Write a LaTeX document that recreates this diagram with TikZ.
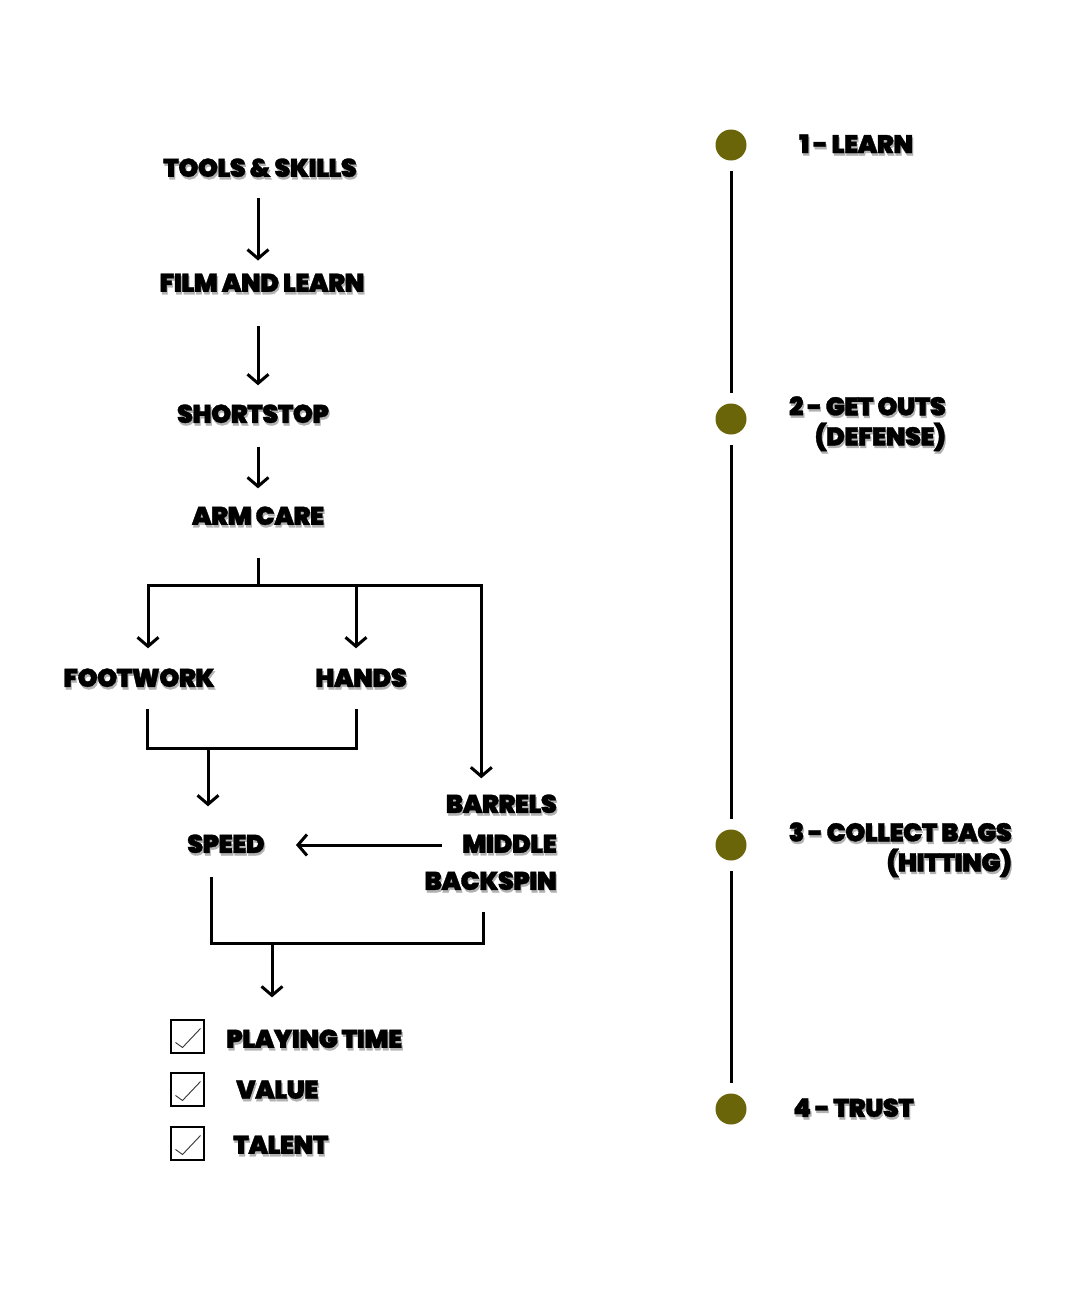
\documentclass[tikz,border=0pt]{standalone}
\usepackage{fontspec}
\setmainfont{Poppins}[BoldFont={Poppins Black}, BoldFeatures={FakeBold=1.3, LetterSpace=-2.2}]
\usetikzlibrary{arrows.meta}
\definecolor{olivedot}{RGB}{107,101,10}
\newcommand\shadowed[1]{\makebox[0pt][l]{\hspace{1.2pt}\raisebox{-2.5pt}{\textcolor{black!30}{#1}}}#1}

\begin{document}
\begin{tikzpicture}[x=1pt,y=-1pt,
  lbl/.style={inner sep=0pt, font=\fontsize{25.5}{30}\selectfont\bfseries},
  link/.style={line width=3pt},
  arrow/.style={link, -{Straight Barb[length=9pt,width=21pt]}},
  tickbox/.style={draw, line width=1.3pt, minimum size=33pt, inner sep=0pt},
  tickmark/.style={line width=0.9pt, black!80},
  dot/.style={circle, fill=olivedot, minimum size=31pt, inner sep=0pt}]
\useasboundingbox[fill=white] (0,0) rectangle (1080,1307);
%%Left chain
\node[lbl] (tools) at (260,169) {\shadowed{TOOLS \& SKILLS}};
\node[lbl] (film) at (262,284) {\shadowed{FILM AND LEARN}};
\node[lbl] (shortstop) at (253,415) {\shadowed{SHORTSTOP}};
\node[lbl] (arm) at (258,517) {\shadowed{ARM CARE}};
\node[lbl] (footwork) at (139,679) {\shadowed{FOOTWORK}};
\node[lbl] (hands) at (361,679) {\shadowed{HANDS}};
\node[lbl, anchor=east] (barrels) at (557,805) {\shadowed{BARRELS}};
\node[lbl, anchor=east] (middle) at (557,845) {\shadowed{MIDDLE}};
\node[lbl, anchor=east] (backspin) at (557,882) {\shadowed{BACKSPIN}};
\node[lbl] (speed) at (226,845) {\shadowed{SPEED}};
\coordinate (split) at (258,585);
\coordinate (merge) at (208,748);
\coordinate (gather) at (272,943);
\draw[arrow, shorten <=18pt, shorten >=13pt] ([xshift=-2pt]tools.south) -- ([xshift=-2pt]tools.south |- film.north); %%Tools
\draw[arrow, shorten <=32pt, shorten >=19pt] ([xshift=-4pt]film.south) -- ([xshift=-4pt]film.south |- shortstop.north); %%Film
\draw[arrow, shorten <=21pt, shorten >=18pt] (arm.north |- shortstop.south) -- (arm.north); %%Shortstop
\draw[link, shorten <=30pt] (arm.south) -- (split); %%Arm care
\draw[arrow, shorten >=20pt] (split) -| ([xshift=9pt]footwork.north);
\draw[arrow, shorten >=20pt] (split) -| ([xshift=-5pt]hands.north);
\draw[arrow, shorten >=16pt] (split) -| ([xshift=-20pt]barrels.north);
\draw[link] ([xshift=8pt,yshift=-19pt]footwork.south) |- (merge) -| ([xshift=-5pt,yshift=-19pt]hands.south); %%Bracket
\draw[arrow, shorten >=28pt] (merge) -- (merge |- speed.north);
\draw[arrow, shorten <=20pt, shorten >=31pt] (middle.west) -- (speed.east);
\draw[link] ([xshift=-15pt,yshift=-21pt]speed.south) |- (gather) -| ([xshift=-7pt,yshift=-19pt]backspin.south); %%Bracket
%%Checklist
\node[lbl, anchor=west] (playing) at (226,1040) {\shadowed{PLAYING TIME}};
\node[lbl, anchor=west] (value) at (236,1091) {\shadowed{VALUE}};
\node[lbl, anchor=west] (talent) at (233,1146) {\shadowed{TALENT}};
\draw[arrow, shorten >=32pt] (gather) -- (gather |- playing.north);
\node[tickbox] (box1) at (187.5,1036.5) {};
\node[tickbox] (box2) at (187.5,1089.5) {};
\node[tickbox] (box3) at (187.5,1143.5) {};
\foreach \b in {box1,box2,box3}
  \draw[tickmark] ([shift={(-12,6)}]\b.center) -- ++(7,5) -- ++(18,-19);
%%Timeline
\node[dot] (d1) at (731,145) {};
\node[dot] (d2) at (731,419) {};
\node[dot] (d3) at (731,845) {};
\node[dot] (d4) at (731,1109) {};
\foreach \a/\b in {d1/d2,d2/d3,d3/d4}
  \draw[link, shorten <=10pt, shorten >=10pt] (\a) -- (\b);
\node[lbl, anchor=west] (learn) at (799,145) {\shadowed{1 - LEARN}};
\node[lbl, anchor=east, align=right] (outs) at (946,425) {\shadowed{2 - GET OUTS}\\\shadowed{(DEFENSE)}};
\node[lbl, anchor=east, align=right] (bags) at (1012,851) {\shadowed{3 - COLLECT BAGS}\\\shadowed{(HITTING)}};
\node[lbl, anchor=west] (trust) at (793,1109) {\shadowed{4 - TRUST}};
\end{tikzpicture}
\end{document}
